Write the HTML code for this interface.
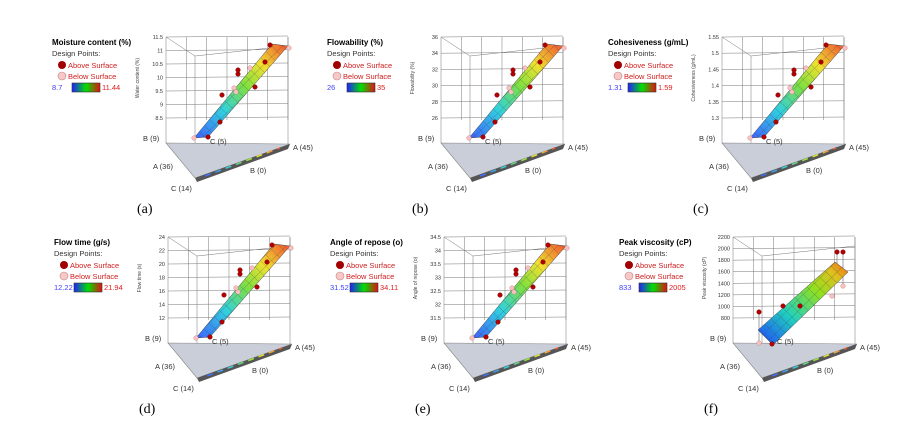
<!DOCTYPE html>
<html><head><meta charset="utf-8"><style>
html,body{margin:0;padding:0;background:#fff;}
svg{display:block;font-family:"Liberation Sans",sans-serif;}
</style></head><body>
<svg id="s" width="914" height="436" viewBox="0 0 914 436" xmlns="http://www.w3.org/2000/svg">
<defs>
<linearGradient id="lg" x1="0" x2="1" y1="0" y2="0"><stop offset="0" stop-color="#2020ff"/><stop offset="0.5" stop-color="#00e000"/><stop offset="1" stop-color="#e01010"/></linearGradient>
<linearGradient id="sg" x1="0" y1="1" x2="1" y2="0"><stop offset="0" stop-color="#4060ff"/><stop offset="0.3" stop-color="#30d0e0"/><stop offset="0.55" stop-color="#80e040"/><stop offset="0.75" stop-color="#f0e030"/><stop offset="1" stop-color="#f05030"/></linearGradient>
<linearGradient id="fg" x1="0" y1="1" x2="1" y2="0"><stop offset="0" stop-color="#2040ff"/><stop offset="0.35" stop-color="#20d0c0"/><stop offset="0.65" stop-color="#90e020"/><stop offset="0.85" stop-color="#e0c020"/><stop offset="1" stop-color="#f06010"/></linearGradient>
<pattern id="hx" width="8" height="8" patternUnits="userSpaceOnUse" patternTransform="rotate(45)"><path d="M0 0V8M0 0H8" stroke="#333" stroke-width="0.5" fill="none"/></pattern>
</defs>
</svg>
<script>
var s=document.getElementById('s'),h='';
var P=[
{dx:0,dy:0,t:'Moisture content (%)',lo:'8.7',hi:'11.44',ax:'Water content (%)',ticks:['11.5','11','10.5','10','9.5','9','8.5'],cap:'(a)'},
{dx:275,dy:0,t:'Flowability (%)',lo:'26',hi:'35',ax:'Flowability (%)',ticks:['36','34','32','30','28','26'],cap:'(b)'},
{dx:556,dy:0,t:'Cohesiveness (g/mL)',lo:'1.31',hi:'1.59',ax:'Cohesiveness (g/mL)',ticks:['1.55','1.5','1.45','1.4','1.35','1.3'],cap:'(c)'},
{dx:2,dy:200,t:'Flow time (g/s)',lo:'12.22',hi:'21.94',ax:'Flow time (s)',ticks:['24','22','20','18','16','14','12'],cap:'(d)'},
{dx:278,dy:200,t:'Angle of repose (o)',lo:'31.52',hi:'34.11',ax:'Angle of repose (o)',ticks:['34.5','34','33.5','33','32.5','32','31.5'],cap:'(e)'},
{dx:567,dy:200,t:'Peak viscosity (cP)',lo:'833',hi:'2005',ax:'Peak viscosity (cP)',ticks:['2200','2000','1800','1600','1400','1200','1000','800'],cap:'(f)',f:1}
];
function T(x,y,t,a){h+='<text x="'+x+'" y="'+y+'" '+(a||'')+'>'+t+'</text>';}
P.forEach(function(p){
 var X=function(x){return x+p.dx},Y=function(y){return y+p.dy};
 var lx=X(52);
 T(lx,Y(45),p.t,'font-size="8" font-weight="bold"');
 T(lx,Y(56),'Design Points:','font-size="7.5" fill="#333"');
 h+='<circle cx="'+X(62)+'" cy="'+Y(65)+'" r="4" fill="#a00000"/>';
 T(X(68),Y(68),'Above Surface','font-size="7.5" fill="#d02020"');
 h+='<circle cx="'+X(62)+'" cy="'+Y(76)+'" r="4" fill="#f8c8c8" stroke="#c08080" stroke-width="0.6"/>';
 T(X(68),Y(79),'Below Surface','font-size="7.5" fill="#d02020"');
 T(lx,Y(90),p.lo,'font-size="7.5" fill="#4040ff"');
 h+='<rect x="'+X(72)+'" y="'+Y(83)+'" width="28" height="9" fill="url(#lg)" stroke="#333" stroke-width="0.6"/>';
 T(X(102),Y(90),p.hi,'font-size="7.5" fill="#e02020"');
 var g='stroke="#777" stroke-width="0.5" fill="none"';
 var n=p.ticks.length;
 for(var i=0;i<n;i++){var y=37+i*(81/(n-1));
  h+='<line x1="'+X(166)+'" y1="'+Y(y)+'" x2="'+X(288)+'" y2="'+Y(y-1)+'" '+g+'/>';
  T(X(163),Y(y+2),p.ticks[i],'font-size="5.5" text-anchor="end" fill="#333"');}
 for(var j=0;j<7;j++){var x=166+j*20.33;h+='<line x1="'+X(x)+'" y1="'+Y(37)+'" x2="'+X(x)+'" y2="'+Y(120)+'" '+g+'/>';}
 h+='<polyline points="'+X(166)+','+Y(37)+' '+X(195)+','+Y(56)+' '+X(288)+','+Y(46)+'" '+g+'/>';
 h+='<line x1="'+X(195)+'" y1="'+Y(56)+'" x2="'+X(195)+'" y2="'+Y(178)+'" '+g+'/>';
 h+='<line x1="'+X(166)+'" y1="'+Y(120)+'" x2="'+X(166)+'" y2="'+Y(143)+'" '+g+'/>';
 h+='<line x1="'+X(288)+'" y1="'+Y(37)+'" x2="'+X(288)+'" y2="'+Y(144)+'" '+g+'/>';
 T(X(139),Y(78),p.ax,'font-size="5" fill="#444" text-anchor="middle" transform="rotate(-90 '+X(139)+' '+Y(78)+')"');
 h+='<polygon points="'+X(166)+','+Y(143)+' '+X(195)+','+Y(178)+' '+X(290)+','+Y(144)+'" fill="#c9ced9" stroke="#888" stroke-width="0.6"/>';
 h+='<polygon points="'+X(195)+','+Y(178)+' '+X(290)+','+Y(144)+' '+X(288)+','+Y(149)+' '+X(197)+','+Y(182)+'" fill="#555"/>';
 h+='<line x1="'+X(205)+'" y1="'+Y(176)+'" x2="'+X(280)+'" y2="'+Y(148)+'" stroke="url(#sg)" stroke-width="1.5" stroke-dasharray="6 5"/>';
 T(X(143),Y(141),'B (9)','font-size="7.5" fill="#333"');
 T(X(210),Y(144),'C (5)','font-size="7.5" fill="#333"');
 T(X(293),Y(150),'A (45)','font-size="7.5" fill="#333"');
 T(X(153),Y(169),'A (36)','font-size="7.5" fill="#333"');
 T(X(250),Y(173),'B (0)','font-size="7.5" fill="#333"');
 T(X(171),Y(191),'C (14)','font-size="7.5" fill="#333"');
 T(X(137),Y(213),p.cap,'font-size="14" font-family="Liberation Serif,serif"');
 var pts;
 if(p.f){pts=[[191,130],[206,145],[281,72],[268,62]];}
 else{pts=[[194,138],[208,137],[288,46],[272,44]];}
 var ps=pts.map(function(q){return X(q[0])+','+Y(q[1])}).join(' ');
 var dots;
 if(p.f){
  dots=[[192,112,0],[216,106,0],[233,106,0],[270,52,0],[276,52,0],[192,143,1],[205,144,0],[265,96,1],[276,86,1]];
  [[192,112,192,143],[270,52,270,80],[276,52,276,86]].forEach(function(l){h+='<line x1="'+X(l[0])+'" y1="'+Y(l[1])+'" x2="'+X(l[2])+'" y2="'+Y(l[3])+'" stroke="#888" stroke-width="0.8"/>';});
 } else dots=[[194,138,1],[208,137,0],[220,122,0],[222,95,0],[234,88,1],[238,74,0],[238,70,0],[236,92,1],[255,87,0],[270,45,0],[289,48,1],[265,62,0],[250,68,1]];
 h+='<polygon points="'+ps+'" fill="url(#'+(p.f?'fg':'sg')+')" stroke="#444" stroke-width="0.5"/>';
 h+='<polygon points="'+ps+'" fill="url(#hx)" opacity="0.7"/>';
 dots.forEach(function(d){h+='<circle cx="'+X(d[0])+'" cy="'+Y(d[1])+'" r="2.3" fill="'+(d[2]?'#f8c0c0':'#b00000')+'" stroke="'+(d[2]?'#c08080':'#700000')+'" stroke-width="0.4"/>';});
});
s.insertAdjacentHTML('beforeend',h);
</script>
</body></html>
